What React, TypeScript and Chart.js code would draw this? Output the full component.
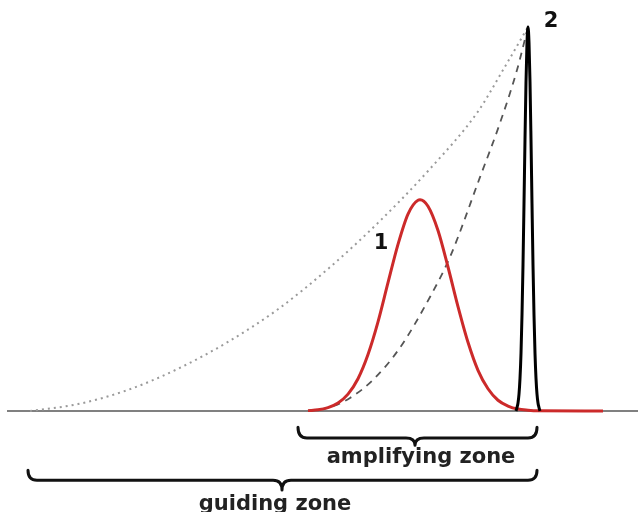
import React, { useEffect, useRef } from "react";
import { Chart, registerables } from "chart.js";

Chart.register(...registerables);

// x: arbitrary distance units; y: relative intensity (spike peak = 100)
const baselineX = [-4.2, 122];
const pulse1X = [56, 58, 60, 62, 64, 66, 68, 70, 72, 74, 76, 78, 78.4, 80, 82, 84, 86, 88, 90, 92, 94, 96, 98, 100, 102, 115];
const pulse1Y = [0.1, 0.3, 0.9, 2.1, 4.4, 8.4, 14.7, 23.2, 33.4, 43.4, 51.3, 54.9, 55, 53.3, 47, 37.5, 27.2, 17.9, 10.6, 5.8, 2.8, 1.3, 0.5, 0.2, 0.05, 0];
const pulse2X = [97.6, 97.8, 98.0, 98.2, 98.4, 98.6, 98.8, 99.0, 99.2, 99.4, 99.6, 99.8, 100, 100.2, 100.4, 100.6, 100.8, 101.0, 101.2, 101.4, 101.6, 101.8, 102.0, 102.2, 102.4];
const pulse2Y = [0, 0.9, 2.1, 4.4, 8.5, 15, 25, 38, 54, 70.7, 85.7, 96, 100, 96, 85.7, 70.7, 54, 38, 25, 15, 8.5, 4.4, 2.1, 0.9, 0];
const guideX = [0.4, 10, 20, 30, 40, 50, 60, 70, 80, 90, 95, 100];
const guideY = [0, 1.8, 5.5, 11, 18, 26.5, 37, 49, 62.5, 78, 88.8, 100];
const ampX = [56, 60.4, 64.4, 69, 74.4, 80.4, 84.4, 90.4, 94.4, 97.8, 100];
const ampY = [0, 1, 3.4, 8.1, 16.5, 29.7, 40.1, 60.9, 75, 88.8, 100];

const braces = [
  { label: "amplifying zone", x0: 54, x1: 101.8, xm: 77.4, yTop: -4.2, yMid: -7.0, yTip: -8.9, textX: 78.6, textY: -13.6 },
  { label: "guiding zone", x0: 0, x1: 101.8, xm: 50.8, yTop: -15.4, yMid: -18.0, yTip: -20.6, textX: 49.4, textY: -25.7 },
];
const peakLabels = [
  { text: "1", x: 70.6, y: 43.5 },
  { text: "2", x: 104.6, y: 101.3 },
];

const toPts = (xs: number[], ys: number[]) => xs.map((x, i) => ({ x, y: ys[i] }));

const overlayPlugin = {
  id: "overlay",
  afterDatasetsDraw(chart: any) {
    const ctx = chart.ctx;
    const xs = chart.scales.x;
    const ys = chart.scales.y;
    ctx.save();
    ctx.strokeStyle = "#111";
    ctx.lineWidth = 3;
    ctx.lineCap = "round";
    ctx.lineJoin = "round";
    for (const b of braces) {
      const x0 = xs.getPixelForValue(b.x0);
      const x1 = xs.getPixelForValue(b.x1);
      const xm = xs.getPixelForValue(b.xm);
      const yT = ys.getPixelForValue(b.yTop);
      const yM = ys.getPixelForValue(b.yMid);
      const yP = ys.getPixelForValue(b.yTip);
      const r = 9;
      ctx.beginPath();
      ctx.moveTo(x0, yT);
      ctx.quadraticCurveTo(x0, yM, x0 + r, yM);
      ctx.lineTo(xm - r, yM);
      ctx.quadraticCurveTo(xm, yM, xm, yP);
      ctx.quadraticCurveTo(xm, yM, xm + r, yM);
      ctx.lineTo(x1 - r, yM);
      ctx.quadraticCurveTo(x1, yM, x1, yT);
      ctx.stroke();
      ctx.fillStyle = "#222";
      ctx.font = "bold 21px 'DejaVu Sans'";
      ctx.textAlign = "center";
      ctx.textBaseline = "alphabetic";
      ctx.fillText(b.label, xs.getPixelForValue(b.textX), ys.getPixelForValue(b.textY));
    }
    ctx.fillStyle = "#111";
    ctx.font = "bold 21px 'DejaVu Sans'";
    ctx.textAlign = "center";
    ctx.textBaseline = "middle";
    for (const l of peakLabels) {
      ctx.fillText(l.text, xs.getPixelForValue(l.x), ys.getPixelForValue(l.y));
    }
    ctx.restore();
  },
};

export default function App() {
  const ref = useRef<HTMLCanvasElement | null>(null);
  useEffect(() => {
    if (!ref.current) return;
    const chart = new Chart(ref.current, {
      type: "line",
      data: {
        datasets: [
          {
            data: toPts(pulse2X, pulse2Y),
            borderColor: "#000",
            borderWidth: 3,
            pointRadius: 0,
            cubicInterpolationMode: "monotone",
          },
          {
            data: toPts(pulse1X, pulse1Y),
            borderColor: "#cc2a2a",
            borderWidth: 3,
            pointRadius: 0,
            cubicInterpolationMode: "monotone",
          },
          {
            data: toPts(ampX, ampY),
            borderColor: "#555",
            borderWidth: 1.8,
            borderDash: [7, 6],
            pointRadius: 0,
            cubicInterpolationMode: "monotone",
          },
          {
            data: toPts(guideX, guideY),
            borderColor: "#9a9a9a",
            borderWidth: 2,
            borderDash: [2, 4],
            pointRadius: 0,
            cubicInterpolationMode: "monotone",
          },
          {
            data: baselineX.map((x) => ({ x, y: 0 })),
            borderColor: "#808080",
            borderWidth: 2,
            pointRadius: 0,
          },
        ],
      },
      options: {
        animation: false,
        responsive: true,
        maintainAspectRatio: false,
        layout: { padding: 0 },
        scales: {
          x: { type: "linear", min: -5.6, max: 122, display: false },
          y: { type: "linear", min: -26.3, max: 107.03, display: false },
        },
        plugins: { legend: { display: false }, tooltip: { enabled: false } },
      },
      plugins: [overlayPlugin],
    } as any);
    return () => chart.destroy();
  }, []);
  return (
    <div style={{ position: "fixed", left: 0, top: 0, width: 638, height: 512, background: "#fff" }}>
      <canvas ref={ref} />
    </div>
  );
}
